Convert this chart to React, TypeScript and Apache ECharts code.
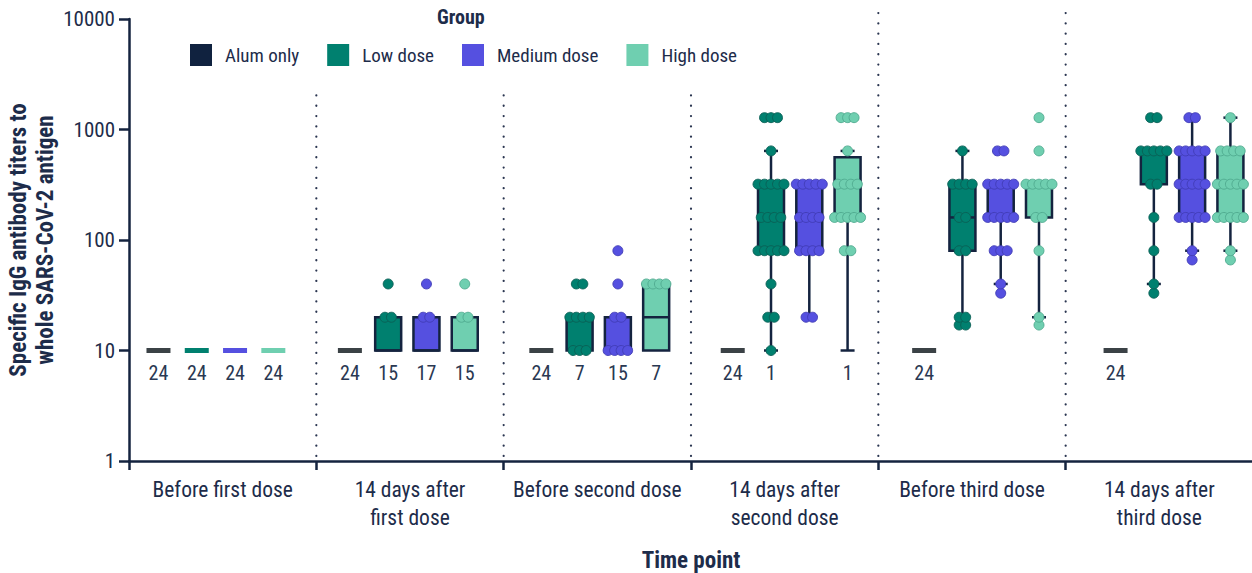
import React, { useEffect, useRef } from "react";
import * as echarts from "echarts";

const FONT = "'Liberation Sans Narrow', 'Arial Narrow', 'Roboto Condensed', 'DejaVu Sans Condensed', sans-serif";
const NAVY = "#14233f";
const TEXT = "#1d2c4a";

const timePoints = [
  "Before first dose",
  "14 days after\nfirst dose",
  "Before second dose",
  "14 days after\nsecond dose",
  "Before third dose",
  "14 days after\nthird dose",
];
const groups = ["Alum only", "Low dose", "Medium dose", "High dose"];
const groupColors = ["#10223f", "#00806f", "#5550e0", "#6fcfb0"];
const flatColors = ["#3b4246", "#00806f", "#5550e0", "#6fcfb0"];
const dotStrokes = ["#10223f", "#0a5f55", "#413cb4", "#4fa98e"];
const yTickValues = [1, 10, 100, 1000, 10000];

// box stats per time point: [lower whisker, Q1, median, Q3, upper whisker]
const alumStats = [
  [10, 10, 10, 10, 10],
  [10, 10, 10, 10, 10],
  [10, 10, 10, 10, 10],
  [10, 10, 10, 10, 10],
  [10, 10, 10, 10, 10],
  [10, 10, 10, 10, 10],
];
const lowStats = [
  [10, 10, 10, 10, 10],
  [10, 10, 10, 20, 20],
  [10, 10, 20, 20, 20],
  [10, 80, 160, 320, 640],
  [20, 80, 160, 320, 640],
  [40, 320, 640, 640, 640],
];
const mediumStats = [
  [10, 10, 10, 10, 10],
  [10, 10, 10, 20, 20],
  [10, 10, 10, 20, 20],
  [20, 80, 160, 320, 320],
  [40, 160, 160, 320, 320],
  [80, 160, 320, 640, 1280],
];
const highStats = [
  [10, 10, 10, 10, 10],
  [10, 10, 10, 20, 20],
  [10, 10, 20, 40, 40],
  [10, 160, 320, 560, 640],
  [20, 160, 320, 320, 320],
  [80, 160, 320, 640, 1280],
];

// number of animals at the lower limit (10), shown under each group
const alumCounts = [24, 24, 24, 24, 24, 24];
const lowCounts = [24, 15, 7, 1, null, null];
const mediumCounts = [24, 17, 15, null, null, null];
const highCounts = [24, 15, 7, 1, null, null];

// individual titers drawn as dots
const alumDots = [[], [], [], [], [], []];
const lowDots = [
  [],
  [20, 20, 40],
  [10, 10, 10, 20, 20, 20, 20, 40, 40],
  [10, 20, 20, 40, 80, 80, 80, 80, 80, 160, 160, 160, 160, 320, 320, 320, 320, 320, 640, 1280, 1280, 1280],
  [17, 17, 20, 20, 80, 80, 160, 160, 320, 320, 320, 320, 640],
  [33, 40, 80, 160, 320, 320, 640, 640, 640, 640, 640, 1280, 1280],
];
const mediumDots = [
  [],
  [20, 20, 40],
  [10, 10, 10, 10, 20, 20, 40, 80],
  [20, 20, 80, 80, 80, 80, 160, 160, 160, 160, 320, 320, 320, 320, 320],
  [33, 40, 80, 80, 80, 160, 160, 160, 160, 160, 320, 320, 320, 320, 320, 640, 640],
  [66, 80, 160, 160, 160, 160, 160, 320, 320, 320, 320, 320, 640, 640, 640, 640, 640, 1280, 1280],
];
const highDots = [
  [],
  [20, 20, 40],
  [40, 40, 40, 40],
  [80, 80, 160, 160, 160, 160, 160, 320, 320, 320, 320, 640, 1280, 1280, 1280],
  [17, 20, 80, 160, 160, 320, 320, 320, 320, 320, 640, 1280],
  [66, 80, 160, 160, 160, 160, 160, 320, 320, 320, 320, 320, 640, 640, 640, 640, 1280],
];

const statsByGroup = [alumStats, lowStats, mediumStats, highStats];
const countsByGroup = [alumCounts, lowCounts, mediumCounts, highCounts];
const dotsByGroup = [alumDots, lowDots, mediumDots, highDots];

const SLOTS_PER_TIME = 5; // 4 groups + 1 gap slot
const slotOf = (t: number, g: number) => t * SLOTS_PER_TIME + g;

const DOT_STEP = 6.5;
const BOX_HALF = 13;
const CAP_HALF = 7;

function swarmData(t: number, values: number[]) {
  const counts: Record<string, number> = {};
  values.forEach((v) => (counts[v] = (counts[v] || 0) + 1));
  const seen: Record<string, number> = {};
  return values.map((v) => {
    const j = seen[v] || 0;
    seen[v] = j + 1;
    return [t, v, j, counts[v]];
  });
}

export default function App() {
  const ref = useRef<HTMLDivElement>(null);

  useEffect(() => {
    if (!ref.current) return;
    const chart = echarts.init(ref.current, null, { renderer: "svg" });

    const lineStyle = { stroke: NAVY, lineWidth: 2.5 };

    const boxSeries = groups.map((name, g) => ({
      name,
      type: "custom",
      xAxisIndex: 1,
      yAxisIndex: 0,
      z: 2,
      itemStyle: { color: groupColors[g] },
      encode: { x: 0, y: [1, 2, 3, 4, 5] },
      data: statsByGroup[g].map((s, t) => [slotOf(t, g), ...s]),
      renderItem: (params: any, api: any) => {
        const x = api.value(0);
        const v = [1, 2, 3, 4, 5].map((i) => api.value(i));
        const py = v.map((val) => api.coord([x, val])[1]);
        const cx = api.coord([x, v[0]])[0];
        const [lo, q1, med, q3, hi] = py;
        if (v[0] === v[4]) {
          return {
            type: "rect",
            shape: { x: cx - 12, y: lo - 2.5, width: 24, height: 5 },
            style: { fill: flatColors[g] },
          };
        }
        const children: any[] = [];
        if (v[4] > v[3]) {
          children.push({ type: "line", shape: { x1: cx, y1: hi, x2: cx, y2: q3 }, style: lineStyle });
          children.push({ type: "line", shape: { x1: cx - CAP_HALF, y1: hi, x2: cx + CAP_HALF, y2: hi }, style: lineStyle });
        }
        if (v[0] < v[1]) {
          children.push({ type: "line", shape: { x1: cx, y1: q1, x2: cx, y2: lo }, style: lineStyle });
          children.push({ type: "line", shape: { x1: cx - CAP_HALF, y1: lo, x2: cx + CAP_HALF, y2: lo }, style: lineStyle });
        }
        children.push({
          type: "rect",
          shape: { x: cx - BOX_HALF, y: q3, width: BOX_HALF * 2, height: q1 - q3 },
          style: { fill: groupColors[g], stroke: NAVY, lineWidth: 2.5 },
        });
        children.push({ type: "line", shape: { x1: cx - BOX_HALF, y1: med, x2: cx + BOX_HALF, y2: med }, style: lineStyle });
        return { type: "group", children };
      },
    }));

    const dotSeries = groups.map((name, g) => ({
      name,
      type: "custom",
      xAxisIndex: 1,
      yAxisIndex: 0,
      z: 3,
      itemStyle: { color: groupColors[g] },
      encode: { x: 0, y: 1 },
      data: dotsByGroup[g].flatMap((vals, t) => swarmData(slotOf(t, g), vals)),
      renderItem: (params: any, api: any) => {
        const p = api.coord([api.value(0), api.value(1)]);
        const off = (api.value(2) - (api.value(3) - 1) / 2) * DOT_STEP;
        return {
          type: "circle",
          shape: { cx: p[0] + off, cy: p[1], r: 5 },
          style: { fill: groupColors[g], stroke: dotStrokes[g], lineWidth: 0.9 },
        };
      },
    }));

    const countData: number[][] = [];
    countsByGroup.forEach((arr, g) =>
      arr.forEach((c, t) => {
        if (c !== null) countData.push([slotOf(t, g), 10, c as number]);
      })
    );

    const countSeries = {
      name: "counts",
      type: "custom",
      xAxisIndex: 1,
      yAxisIndex: 0,
      z: 3,
      encode: { x: 0, y: 1 },
      data: countData,
      renderItem: (params: any, api: any) => {
        const p = api.coord([api.value(0), api.value(1)]);
        return {
          type: "text",
          x: p[0],
          y: p[1] + 22,
          style: {
            text: String(api.value(2)),
            fill: "#2a3852",
            fontSize: 20,
            fontFamily: FONT,
            align: "center",
            verticalAlign: "middle",
          },
        };
      },
    };

    const sepSeries = {
      name: "separators",
      type: "custom",
      xAxisIndex: 0,
      yAxisIndex: 0,
      z: 1,
      silent: true,
      encode: { x: 0, y: 1 },
      data: [1, 2, 3, 4, 5].map((i) => [i, 1]),
      renderItem: (params: any, api: any) => {
        const p = api.coord([api.value(0), 1]);
        const bw = api.size([1, 1])[0];
        const x = p[0] - bw / 2;
        const cs = params.coordSys;
        return {
          type: "line",
          shape: { x1: x, y1: cs.y - 6, x2: x, y2: cs.y + cs.height },
          style: { stroke: "#2a3550", lineWidth: 2.2, lineDash: [0.1, 10.2], lineCap: "round" },
        };
      },
    };

    chart.setOption({
      animation: false,
      backgroundColor: "#ffffff",
      textStyle: { fontFamily: FONT },
      title: {
        text: "Group",
        left: 437,
        top: 7,
        padding: 0,
        textStyle: { fontSize: 20, fontWeight: "bold", color: TEXT, fontFamily: FONT },
      },
      legend: {
        data: groups.map((name, g) => ({ name, itemStyle: { color: groupColors[g], borderWidth: 0 } })),
        left: 178,
        top: 0,
        padding: [44, 14, 22, 12],
        itemWidth: 22,
        itemHeight: 22,
        itemGap: 28,
        icon: "rect",
        backgroundColor: "#ffffff",
        selectedMode: false,
        textStyle: { fontSize: 19, color: TEXT, fontFamily: FONT, padding: [0, 0, 0, 8] },
      },
      grid: { left: 129, top: 19, width: 1124, bottom: 112, outerBoundsMode: "none", containLabel: false },
      xAxis: [
        {
          type: "category",
          data: timePoints,
          boundaryGap: true,
          axisLine: { onZero: false, lineStyle: { color: NAVY, width: 2.5 } },
          axisTick: { show: true, alignWithLabel: false, length: 9, lineStyle: { color: NAVY, width: 2.5 } },
          axisLabel: { interval: 0, fontSize: 21.5, lineHeight: 28, margin: 14, color: TEXT, fontFamily: FONT },
          splitLine: { show: false },
          name: "Time point",
          nameLocation: "middle",
          nameGap: 87,
          nameMoveOverlap: false,
          nameTextStyle: { fontSize: 23, fontWeight: "bold", color: TEXT, lineHeight: 24, fontFamily: FONT },
        },
        {
          type: "value",
          min: -0.77,
          max: 28.59,
          show: false,
        },
      ],
      yAxis: {
        type: "log",
        logBase: 10,
        min: 1,
        max: 10000,
        axisLine: { show: true, onZero: false, lineStyle: { color: NAVY, width: 2.5 } },
        axisTick: { show: true, length: 10, lineStyle: { color: NAVY, width: 2.5 } },
        minorTick: { show: false },
        splitLine: { show: false },
        axisLabel: {
          fontSize: 21,
          margin: 14,
          color: TEXT,
          fontFamily: FONT,
          formatter: (v: number) => {
            const t = yTickValues.find((tv) => Math.abs(Math.log10(tv) - Math.log10(v)) < 1e-6);
            return t !== undefined ? String(t) : "";
          },
        },
        name: "Specific IgG antibody titers to\nwhole SARS-CoV-2 antigen",
        nameLocation: "middle",
        nameRotate: 90,
        nameGap: 70,
        nameMoveOverlap: false,
        nameTextStyle: { fontSize: 23, fontWeight: "bold", color: TEXT, lineHeight: 27, fontFamily: FONT },
      },
      series: [sepSeries, ...boxSeries, ...dotSeries, countSeries],
    });

    return () => chart.dispose();
  }, []);

  return (
    <div
      ref={ref}
      style={{ position: "fixed", left: 0, top: 0, width: 1252, height: 573, background: "#fff" }}
    />
  );
}
